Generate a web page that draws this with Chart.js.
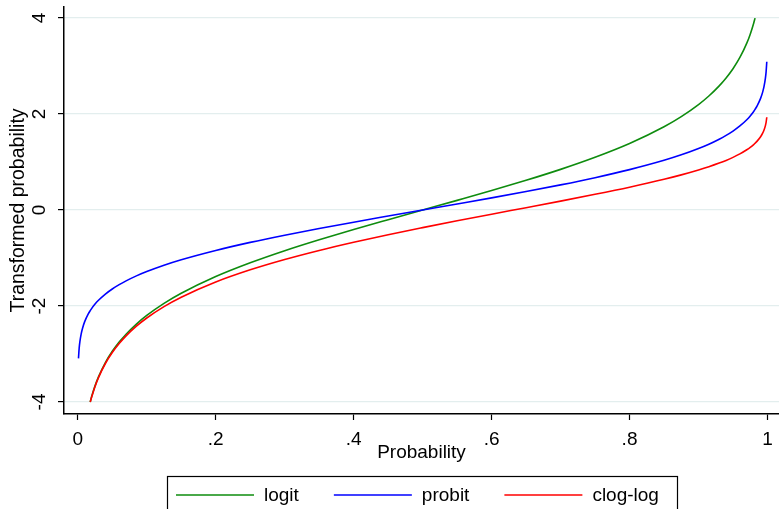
<!DOCTYPE html>
<html>
<head>
<meta charset="utf-8">
<script src="https://cdn.jsdelivr.net/npm/chart.js@4.4.1/dist/chart.umd.min.js"></script>
<style>
  html, body { margin: 0; padding: 0; background: #ffffff; }
  #wrap { width: 779px; height: 509px; position: relative; }
</style>
</head>
<body>
<div id="wrap"><canvas id="c" width="779" height="509"></canvas></div>
<script>
// ---- data ----
const probs = [0.001,0.002,0.003,0.005,0.007,0.01,0.015,0.018,0.02,0.025,0.03,0.04,0.05,0.06,0.07,0.085,0.1,0.125,0.15,0.2,0.25,0.3,0.35,0.4,0.45,0.5,0.55,0.6,0.65,0.7,0.75,0.8,0.85,0.875,0.9,0.915,0.93,0.94,0.95,0.96,0.97,0.975,0.98,0.982,0.985,0.99,0.993,0.995,0.997,0.998,0.999];
const logitVals = [null,null,null,null,null,null,null,-3.999,-3.892,-3.664,-3.476,-3.178,-2.944,-2.752,-2.587,-2.376,-2.197,-1.946,-1.735,-1.386,-1.099,-0.847,-0.619,-0.405,-0.201,0,0.201,0.405,0.619,0.847,1.099,1.386,1.735,1.946,2.197,2.376,2.587,2.752,2.944,3.178,3.476,3.664,3.892,3.999,null,null,null,null,null,null,null];
const probitVals = [-3.090,-2.878,-2.748,-2.576,-2.457,-2.326,-2.170,-2.097,-2.054,-1.960,-1.881,-1.751,-1.645,-1.555,-1.476,-1.372,-1.282,-1.150,-1.036,-0.842,-0.674,-0.524,-0.385,-0.253,-0.126,0,0.126,0.253,0.385,0.524,0.674,0.842,1.036,1.150,1.282,1.372,1.476,1.555,1.645,1.751,1.881,1.960,2.054,2.097,2.170,2.326,2.457,2.576,2.748,2.878,3.090];
const cloglogVals = [null,null,null,null,null,null,null,-4.0,-3.902,-3.676,-3.491,-3.198,-2.970,-2.783,-2.623,-2.421,-2.250,-2.013,-1.817,-1.500,-1.246,-1.031,-0.842,-0.672,-0.514,-0.367,-0.225,-0.087,0.049,0.186,0.327,0.476,0.640,0.732,0.834,0.902,0.978,1.034,1.097,1.169,1.255,1.305,1.364,1.391,1.435,1.527,1.602,1.667,1.759,1.827,1.933];
const seriesNames = ["logit", "probit", "clog-log"];
const xTickValues = [0, 0.2, 0.4, 0.6, 0.8, 1];
const xTickLabels = ["0", ".2", ".4", ".6", ".8", "1"];
const yTickValues = [-4, -2, 0, 2, 4];
const yTickLabels = ["-4", "-2", "0", "2", "4"];
const xTitle = "Probability";
const yTitle = "Transformed probability";

// ---- styling ----
const FONT = "'Liberation Sans', Arimo, Arial, sans-serif";
const colors = ["#0e8c0e", "#0000ff", "#ff0000"];
Chart.defaults.font.family = FONT;
Chart.defaults.color = "#000";

function toPoints(vals) {
  return probs.map((p, i) => ({ x: p, y: vals[i] }));
}
const seriesVals = [logitVals, probitVals, cloglogVals];

const datasets = seriesVals.map((vals, i) => ({
  label: seriesNames[i],
  data: toPoints(vals),
  borderColor: colors[i],
  backgroundColor: colors[i],
  borderWidth: 1.6,
  pointRadius: 0,
  fill: false,
  spanGaps: false,
  cubicInterpolationMode: "monotone",
  order: 2 - i
}));

const legendPlugin = {
  id: "stataLegend",
  afterDraw(chart) {
    const ctx = chart.ctx;
    const area = chart.chartArea;
    const cx = (area.left + area.right) / 2;
    const boxW = 510, boxTop = 476.5;
    const boxLeft = Math.round(cx - boxW / 2) + 0.5;
    ctx.save();
    ctx.strokeStyle = "#000";
    ctx.lineWidth = 1.2;
    ctx.strokeRect(boxLeft, boxTop, boxW, 60);
    ctx.font = "19px " + FONT;
    ctx.textBaseline = "middle";
    ctx.textAlign = "left";
    let x = boxLeft + 8.5;
    const y = 495;
    chart.data.datasets.forEach((ds) => {
      ctx.strokeStyle = ds.borderColor;
      ctx.lineWidth = 1.5;
      ctx.beginPath();
      ctx.moveTo(x, y);
      ctx.lineTo(x + 78, y);
      ctx.stroke();
      x += 78 + 10;
      ctx.fillStyle = "#000";
      ctx.fillText(ds.label, x, y + 0.5);
      x += ctx.measureText(ds.label).width + 35;
    });
    ctx.restore();
  }
};

new Chart(document.getElementById("c"), {
  type: "line",
  data: { datasets },
  plugins: [legendPlugin],
  options: {
    responsive: false,
    animation: false,
    devicePixelRatio: 1,
    layout: { padding: { top: 7, right: 0, bottom: 35, left: 0 } },
    plugins: { legend: { display: false }, tooltip: { enabled: false } },
    scales: {
      x: {
        type: "linear",
        min: -0.02,
        max: 1.0167,
        afterBuildTicks(scale) { scale.ticks = xTickValues.map(v => ({ value: v })); },
        afterFit(scale) { scale.height = 60; scale.paddingLeft = 0; scale.paddingRight = 0; },
        ticks: {
          font: { size: 19 },
          color: "#000",
          padding: 8,
          maxRotation: 0,
          autoSkip: false,
          callback(value) { const i = xTickValues.indexOf(value); return i >= 0 ? xTickLabels[i] : ""; }
        },
        grid: { display: true, drawOnChartArea: false, drawTicks: true, tickLength: 6, tickColor: "#000", tickWidth: 1.2 },
        border: { display: true, color: "#000", width: 1.5 },
        title: { display: true, text: xTitle, font: { size: 19 }, color: "#000", padding: { top: 0, bottom: 10 } }
      },
      y: {
        type: "linear",
        min: -4.25,
        max: 4.23,
        afterBuildTicks(scale) { scale.ticks = yTickValues.map(v => ({ value: v })); },
        afterFit(scale) { scale.width = 64; scale.paddingTop = 0; scale.paddingBottom = 0; },
        ticks: {
          font: { size: 19 },
          color: "#000",
          padding: 10,
          minRotation: 90,
          maxRotation: 90,
          crossAlign: "center",
          autoSkip: false,
          callback(value) { const i = yTickValues.indexOf(value); return i >= 0 ? yTickLabels[i] : ""; }
        },
        grid: { display: true, drawOnChartArea: true, color: "#e3eeee", lineWidth: 1.2, drawTicks: true, tickLength: 6, tickColor: "#000", tickWidth: 1.2 },
        border: { display: true, color: "#000", width: 1.5 },
        title: { display: true, text: yTitle, font: { size: 19.5 }, color: "#000", padding: { top: 7, bottom: 0 } }
      }
    }
  }
});
</script>
</body>
</html>
